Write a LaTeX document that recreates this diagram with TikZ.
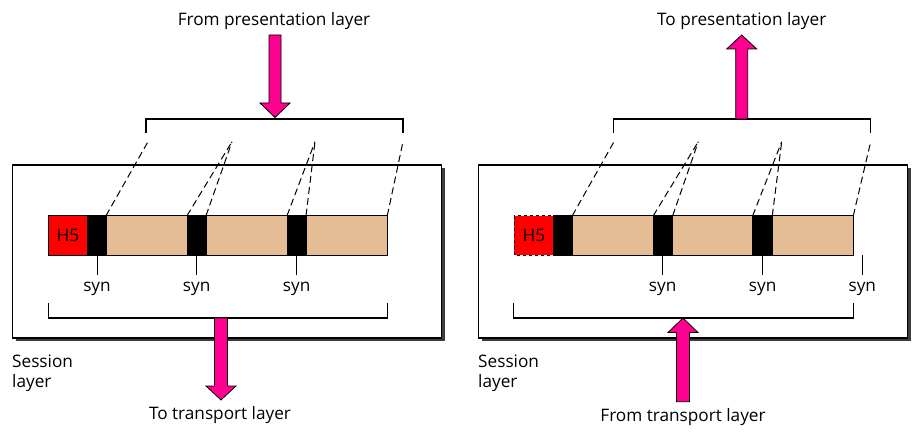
\documentclass[tikz,border=0pt]{standalone}
\usepackage{fontspec}
\setmainfont{Open Sans}
\definecolor{pinkA}{RGB}{255,0,144}
\definecolor{redA}{RGB}{255,0,0}
\definecolor{tanA}{RGB}{228,189,149}
\definecolor{shadowA}{RGB}{60,60,60}
\begin{document}
\begin{tikzpicture}[x=1pt,y=-1pt,
  lbl/.style={font=\fontsize{17.2}{20}\selectfont, inner sep=0pt},
  blockarrow/.style={fill=pinkA, draw=black, line width=0.8pt, line join=miter},
  layerbox/.style={draw=black, fill=white, line width=1.1pt},
  seg/.style={draw=black, line width=0.8pt},
  dsh/.style={line width=1pt, dash pattern=on 7pt off 4pt},
  brk/.style={line width=1.1pt}]
\useasboundingbox (0,0) rectangle (924,438);

% ---------------- Left panel ----------------
\fill[shadowA] (16,168.5) rectangle (445,341.5);
\draw[layerbox] (12.7,165) rectangle (441.7,338);

\draw[seg, fill=redA] (48.3,215.7) rectangle (87.7,255);
\node[lbl] (lh5) at (68,235.5) {H5};
\draw[seg, fill=black] (87.7,215.7) rectangle (106,255);
\draw[seg, fill=tanA] (106,215.7) rectangle (187,255);
\draw[seg, fill=black] (187,215.7) rectangle (206,255);
\draw[seg, fill=tanA] (206,215.7) rectangle (287,255);
\draw[seg, fill=black] (287,215.7) rectangle (306,255);
\draw[seg, fill=tanA] (306,215.7) rectangle (387.3,255);

\draw[seg] (97,255) -- (97,275);
\draw[seg] (196.7,255) -- (196.7,275);
\draw[seg] (296.7,255) -- (296.7,275);
\node[lbl] (ls1) at (97,289) {syn};
\node[lbl] (ls2) at (196.7,289) {syn};
\node[lbl] (ls3) at (296.7,289) {syn};

\draw[brk] (48.3,303) -- (48.3,318) -- (387.3,318) -- (387.3,303);
\draw[brk] (146,133) -- (146,119) -- (403,119) -- (403,133);

\draw[dsh] (106,215.7) -- (148,141.7);
\draw[dsh] (187,215.7) -- (232,141.7);
\draw[dsh] (206,215.7) -- (232,141.7);
\draw[dsh] (287,215.7) -- (315,141.7);
\draw[dsh] (306,215.7) -- (315,141.7);
\draw[dsh] (387.3,215.7) -- (403,141.7);

\draw[blockarrow] (269,35) -- (281,35) -- (281,103) -- (290,103) -- (275,117.5) -- (260,103) -- (269,103) -- cycle;
\draw[blockarrow] (214.5,318) -- (227.5,318) -- (227.5,386) -- (236,386) -- (221,400) -- (206,386) -- (214.5,386) -- cycle;

\node[lbl] (ltop) at (274,21) {From presentation layer};
\node[lbl] (lbot) at (220,415) {To transport layer};
\node[lbl, anchor=west] (lsess) at (12,361) {Session};
\node[lbl, anchor=west] (llay) at (12,383) {layer};

% ---------------- Right panel ----------------
\fill[shadowA] (481.6,168.5) rectangle (910.6,341.5);
\draw[layerbox] (478.3,165) rectangle (907.3,338);

\draw[seg, fill=redA, dashed] (514.3,215.7) rectangle (553.3,255);
\node[lbl] (rh5) at (534,235.5) {H5};
\draw[seg, fill=black] (553.3,215.7) rectangle (572.3,255);
\draw[seg, fill=tanA] (572.3,215.7) rectangle (653.3,255);
\draw[seg, fill=black] (653.3,215.7) rectangle (672.7,255);
\draw[seg, fill=tanA] (672.7,215.7) rectangle (752.7,255);
\draw[seg, fill=black] (752.7,215.7) rectangle (772.3,255);
\draw[seg, fill=tanA] (772.3,215.7) rectangle (853.3,255);

\draw[seg] (662.7,255) -- (662.7,275);
\draw[seg] (762.7,255) -- (762.7,275);
\draw[seg] (862.3,255) -- (862.3,275);
\node[lbl] (rs1) at (662.7,289) {syn};
\node[lbl] (rs2) at (762.7,289) {syn};
\node[lbl] (rs3) at (862.3,289) {syn};

\draw[brk] (513.3,303) -- (513.3,318) -- (853.3,318) -- (853.3,303);
\draw[brk] (613.3,133) -- (613.3,119) -- (870.7,119) -- (870.7,133);

\draw[dsh] (572.3,215.7) -- (614,141.7);
\draw[dsh] (653.3,215.7) -- (698.3,141.7);
\draw[dsh] (672.7,215.7) -- (698.3,141.7);
\draw[dsh] (752.7,215.7) -- (781.7,141.7);
\draw[dsh] (772.3,215.7) -- (781.7,141.7);
\draw[dsh] (853.3,215.7) -- (870.7,141.7);

\draw[blockarrow] (735.7,119) -- (747.7,119) -- (747.7,49) -- (756.7,49) -- (741.7,35) -- (726.7,49) -- (735.7,49) -- cycle;
\draw[blockarrow] (676.5,401.7) -- (689.5,401.7) -- (689.5,332.5) -- (698,332.5) -- (683,318) -- (668,332.5) -- (676.5,332.5) -- cycle;

\node[lbl] (rtop) at (741.7,21) {To presentation layer};
\node[lbl] (rbot) at (683,417) {From transport layer};
\node[lbl, anchor=west] (rsess) at (478,361) {Session};
\node[lbl, anchor=west] (rlay) at (478,383) {layer};
\end{tikzpicture}
\end{document}
